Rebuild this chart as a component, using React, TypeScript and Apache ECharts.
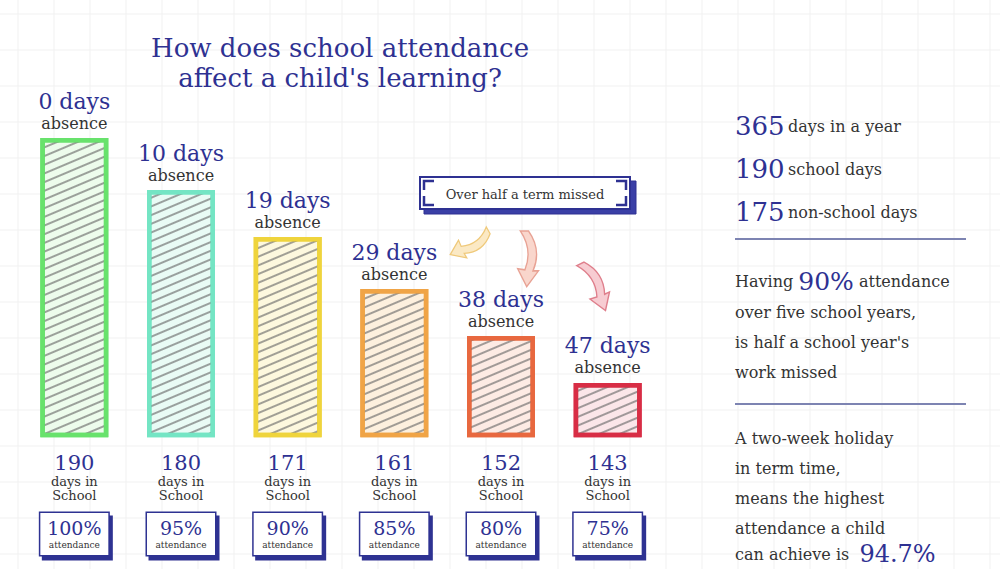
import React, { useEffect, useRef } from "react";
import * as echarts from "echarts";

const absenceDays = [0, 10, 19, 29, 38, 47];
const daysInSchool = [190, 180, 171, 161, 152, 143];
const attendance = ["100%", "95%", "90%", "85%", "80%", "75%"];
const barBorder = ["#68e26c", "#74e5c4", "#efd43c", "#f0a446", "#e8683f", "#d82d45"];
const barFill = ["#edfcec", "#e9fbf5", "#fdf8de", "#fdf0de", "#fdebe4", "#fbe6e9"];

const titleLines = ["How does school attendance", "affect a child's learning?"];
const factNumbers = ["365", "190", "175"];
const factTexts = ["days in a year", "school days", "non-school days"];
const para1 = ["over five school years,", "is half a school year's", "work missed"];
const para2 = ["A two-week holiday", "in term time,", "means the highest", "attendance a child"];
const calloutText = "Over half a term missed";

const BLUE = "#2e3192";
const GREY = "#333333";
const FONT = "DejaVu Serif";

const arrowPath =
  "M -4 0 L 5 0 Q 20 18 10 38 L 16 38 L 3 53 L -7 36 L 1 37 Q 10 18 -4 0 Z";
echarts.graphic.registerShape("curvedArrow", echarts.graphic.extendPath(arrowPath, {}) as any);

export default function App() {
  const ref = useRef<HTMLDivElement>(null);
  useEffect(() => {
    document.body.style.margin = "0";
    const chart = echarts.init(ref.current!, null, { renderer: "svg" });

    const graphics: any[] = [];
    // faint graph-paper background
    for (let x = 18; x < 1000; x += 36) {
      graphics.push({ type: "line", silent: true, z: -10, shape: { x1: x, y1: 0, x2: x, y2: 569 }, style: { stroke: "#f1f1f1", lineWidth: 1 } });
    }
    for (let y = 14; y < 569; y += 36) {
      graphics.push({ type: "line", silent: true, z: -10, shape: { x1: 0, y1: y, x2: 1000, y2: y }, style: { stroke: "#f1f1f1", lineWidth: 1 } });
    }
    // title
    titleLines.forEach((t, i) => {
      graphics.push({ type: "text", x: 340, y: 48 + i * 30, style: { text: t, fill: BLUE, font: `26px '${FONT}'`, align: "center", verticalAlign: "middle" } });
    });
    // callout box
    graphics.push({ type: "rect", shape: { x: 424, y: 181, width: 212, height: 33 }, style: { fill: "#3a3fa6", stroke: BLUE, lineWidth: 1 } });
    graphics.push({ type: "rect", shape: { x: 420, y: 177, width: 210, height: 32 }, style: { fill: "#ffffff", stroke: BLUE, lineWidth: 2 } });
    graphics.push({ type: "polyline", shape: { points: [[424, 190], [424, 181], [434, 181]] }, style: { stroke: BLUE, lineWidth: 2.5, fill: null } });
    graphics.push({ type: "polyline", shape: { points: [[616, 181], [626, 181], [626, 190]] }, style: { stroke: BLUE, lineWidth: 2.5, fill: null } });
    graphics.push({ type: "polyline", shape: { points: [[424, 196], [424, 205], [434, 205]] }, style: { stroke: BLUE, lineWidth: 2.5, fill: null } });
    graphics.push({ type: "polyline", shape: { points: [[616, 205], [626, 205], [626, 196]] }, style: { stroke: BLUE, lineWidth: 2.5, fill: null } });
    graphics.push({ type: "text", x: 525, y: 194, style: { text: calloutText, fill: GREY, font: `13px '${FONT}'`, align: "center", verticalAlign: "middle" } });
    // arrows
    graphics.push({ type: "curvedArrow", x: 488, y: 230, rotation: -1.05, scaleX: 0.85, scaleY: 0.85, style: { fill: "#fbe9c4", stroke: "#efc97a", lineWidth: 1.5 } });
    graphics.push({ type: "curvedArrow", x: 524, y: 231, rotation: 0, scaleX: 0.9, scaleY: 1.05, style: { fill: "#f9d6cc", stroke: "#e8a294", lineWidth: 1.5 } });
    graphics.push({ type: "curvedArrow", x: 580, y: 264, rotation: 0.45, scaleX: 0.9, scaleY: 1.0, style: { fill: "#f7ccd2", stroke: "#df7f8c", lineWidth: 1.5 } });
    // right panel
    factNumbers.forEach((n, i) => {
      graphics.push({
        type: "text", x: 735, y: 126 + i * 43,
        style: { text: `{n|${n}} {t|${factTexts[i]}}`, verticalAlign: "middle", rich: { n: { fontSize: 26, fontFamily: FONT, fill: BLUE }, t: { fontSize: 16, fontFamily: FONT, fill: GREY } } },
      });
    });
    graphics.push({ type: "line", shape: { x1: 735, y1: 239, x2: 966, y2: 239 }, style: { stroke: "#7d84b2", lineWidth: 2 } });
    graphics.push({
      type: "text", x: 735, y: 281,
      style: { text: `{t|Having }{n|90%}{t| attendance}`, verticalAlign: "middle", rich: { n: { fontSize: 25, fontFamily: FONT, fill: BLUE }, t: { fontSize: 16, fontFamily: FONT, fill: GREY } } },
    });
    para1.forEach((t, i) => {
      graphics.push({ type: "text", x: 735, y: 312 + i * 30, style: { text: t, fill: GREY, font: `16px '${FONT}'`, verticalAlign: "middle" } });
    });
    graphics.push({ type: "line", shape: { x1: 735, y1: 404, x2: 966, y2: 404 }, style: { stroke: "#7d84b2", lineWidth: 2 } });
    para2.forEach((t, i) => {
      graphics.push({ type: "text", x: 735, y: 438 + i * 30, style: { text: t, fill: GREY, font: `16px '${FONT}'`, verticalAlign: "middle" } });
    });
    graphics.push({
      type: "text", x: 735, y: 554,
      style: { text: `{t|can achieve is  }{n|94.7%}`, verticalAlign: "middle", rich: { n: { fontSize: 24, fontFamily: FONT, fill: BLUE }, t: { fontSize: 16, fontFamily: FONT, fill: GREY } } },
    });

    chart.setOption({
      animation: false,
      backgroundColor: "#ffffff",
      grid: { left: 21, right: 339, top: 138, bottom: 134, containLabel: false },
      xAxis: [
        {
          type: "category",
          data: attendance,
          position: "bottom",
          axisLine: { show: false },
          axisTick: { show: false },
          axisLabel: {
            interval: 0,
            margin: 17,
            formatter: (_v: string, i: number) => `{n|${daysInSchool[i]}}\n{t|days in}\n{t|School}`,
            rich: {
              n: { fontSize: 21, fontFamily: FONT, color: BLUE, lineHeight: 22 },
              t: { fontSize: 13, fontFamily: FONT, color: GREY, lineHeight: 14 },
            },
          },
        },
        {
          type: "category",
          data: attendance,
          position: "bottom",
          offset: 0,
          axisLine: { show: false },
          axisTick: { show: false },
          axisLabel: {
            interval: 0,
            margin: 78,
            formatter: (v: string) => `{p|${v}}\n{a|attendance}`,
            width: 60,
            align: "center",
            backgroundColor: "#ffffff",
            borderColor: BLUE,
            borderWidth: 1.5,
            padding: [4, 4, 4, 4],
            shadowColor: BLUE,
            shadowOffsetX: 3,
            shadowOffsetY: 4,
            shadowBlur: 0,
            rich: {
              p: { fontSize: 19, fontFamily: FONT, color: BLUE, lineHeight: 22, align: "center" },
              a: { fontSize: 9, fontFamily: FONT, color: GREY, lineHeight: 12, align: "center" },
            },
          },
        },
      ],
      yAxis: { type: "value", min: 133, max: 190, show: false, splitLine: { show: false } },
      series: [
        {
          type: "bar",
          xAxisIndex: 0,
          barWidth: 68,
          data: daysInSchool.map((v, i) => ({
            value: v,
            itemStyle: {
              color: barFill[i],
              borderColor: barBorder[i],
              borderWidth: 4.5,
              decal: {
                symbol: "rect",
                symbolSize: 1,
                color: "rgba(100,100,100,0.6)",
                dashArrayX: [1, 0],
                dashArrayY: [2, 6],
                rotation: -0.4,
              },
            },
          })),
          label: {
            show: true,
            position: "top",
            distance: 5,
            formatter: (p: any) => `{d|${absenceDays[p.dataIndex]} days}\n{a|absence}`,
            rich: {
              d: { fontSize: 22, fontFamily: FONT, color: BLUE, lineHeight: 24 },
              a: { fontSize: 16, fontFamily: FONT, color: GREY, lineHeight: 20 },
            },
          },
        },
      ],
      graphic: graphics,
    });
    return () => chart.dispose();
  }, []);
  return <div ref={ref} style={{ position: "absolute", left: 0, top: 0, width: 1000, height: 569 }} />;
}
